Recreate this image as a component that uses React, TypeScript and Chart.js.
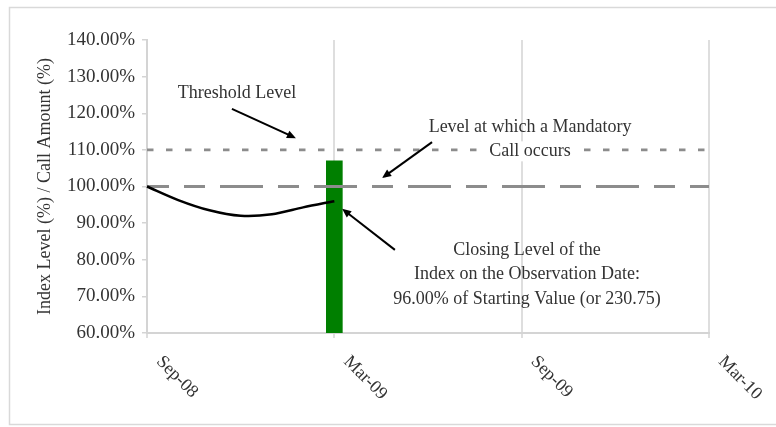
import React, { useEffect, useRef } from 'react';
import { Chart, registerables } from 'chart.js';

Chart.register(...registerables);

// ---- data ----
const months = [
  'Sep-08', 'Oct-08', 'Nov-08', 'Dec-08', 'Jan-09', 'Feb-09', 'Mar-09',
  'Apr-09', 'May-09', 'Jun-09', 'Jul-09', 'Aug-09', 'Sep-09',
  'Oct-09', 'Nov-09', 'Dec-09', 'Jan-10', 'Feb-10', 'Mar-10',
];
const indexLevel = [100, 96.3, 93.5, 92.0, 92.4, 94.3, 96.0];
const callMonth = 'Mar-09';
const callAmount = 107;
const thresholdLevel = 110;
const mandatoryCallLevel = 100;
const axisTickLabels = ['Sep-08', 'Mar-09', 'Sep-09', 'Mar-10'];
const yMin = 60;
const yMax = 140;
const yStep = 10;

const yTitle = 'Index Level (%) / Call Amount (%)';
const thresholdText = ['Threshold Level'];
const mandatoryText = ['Level at which a Mandatory', 'Call occurs'];
const closingText = [
  'Closing Level of the',
  'Index on the Observation Date:',
  '96.00% of Starting Value (or 230.75)',
];

const FONT = "'Liberation Serif', 'Times New Roman', serif";
const TEXT = '#333333';

function arrow(ctx: CanvasRenderingContext2D, x1: number, y1: number, x2: number, y2: number) {
  const ang = Math.atan2(y2 - y1, x2 - x1);
  const hl = 9;
  const hw = 4;
  ctx.save();
  ctx.strokeStyle = '#000';
  ctx.fillStyle = '#000';
  ctx.lineWidth = 2;
  ctx.beginPath();
  ctx.moveTo(x1, y1);
  ctx.lineTo(x2 - Math.cos(ang) * hl * 0.8, y2 - Math.sin(ang) * hl * 0.8);
  ctx.stroke();
  ctx.beginPath();
  ctx.moveTo(x2, y2);
  ctx.lineTo(x2 - Math.cos(ang) * hl - Math.sin(ang) * hw, y2 - Math.sin(ang) * hl + Math.cos(ang) * hw);
  ctx.lineTo(x2 - Math.cos(ang) * hl + Math.sin(ang) * hw, y2 - Math.sin(ang) * hl - Math.cos(ang) * hw);
  ctx.closePath();
  ctx.fill();
  ctx.restore();
}

const decorPlugin = {
  id: 'decor',
  beforeDraw(chart: any) {
    const ctx = chart.ctx;
    ctx.save();
    ctx.strokeStyle = '#d9d9d9';
    ctx.lineWidth = 1.5;
    ctx.strokeRect(9.5, 7.5, 800, 417);
    ctx.restore();
  },
  afterDatasetsDraw(chart: any) {
    const ctx = chart.ctx;
    const xs = chart.scales.x;
    const ys = chart.scales.y;
    const px = (v: number) => xs.getPixelForValue(v);
    const py = (v: number) => ys.getPixelForValue(v);
    ctx.save();
    ctx.font = `18px ${FONT}`;
    ctx.fillStyle = TEXT;
    ctx.textAlign = 'center';
    ctx.textBaseline = 'middle';

    // Threshold label
    ctx.fillText(thresholdText[0], px(2.88), py(125.5));
    arrow(ctx, px(2.72), py(121.2), px(4.77), py(113.2));

    // Mandatory call label
    const mx = px(12.27);
    const lineGap = 6.7;
    mandatoryText.forEach((t, i) => {
      const y = py(116.3 - i * lineGap);
      if (i === 1) {
        const w = ctx.measureText(t).width;
        ctx.fillStyle = '#ffffff';
        ctx.fillRect(mx - w / 2 - 4, y - 10, w + 8, 20);
        ctx.fillStyle = TEXT;
      }
      ctx.fillText(t, mx, y);
    });
    arrow(ctx, px(9.13), py(112.1), px(7.53), py(102.3));

    // Closing level label
    const cx = px(12.17);
    closingText.forEach((t, i) => {
      ctx.fillText(t, cx, py(82.7 - i * 6.7));
    });
    arrow(ctx, px(7.94), py(82.7), px(6.25), py(93.9));
    ctx.restore();
  },
  afterDraw(chart: any) {
    const ctx = chart.ctx;
    const xs = chart.scales.x;
    const bottom = chart.chartArea.bottom;
    ctx.save();
    ctx.font = `18px ${FONT}`;
    ctx.fillStyle = TEXT;
    ctx.textAlign = 'left';
    ctx.textBaseline = 'middle';
    axisTickLabels.forEach((lab) => {
      const x = xs.getPixelForValue(months.indexOf(lab));
      ctx.save();
      ctx.translate(x + 12, bottom + 26);
      ctx.rotate(Math.PI / 4);
      ctx.fillText(lab, 0, 0);
      ctx.restore();
    });
    ctx.restore();
  },
};

export default function App() {
  const ref = useRef<HTMLCanvasElement | null>(null);

  useEffect(() => {
    if (!ref.current) return;
    const chart = new Chart(ref.current, {
      type: 'line',
      data: {
        labels: months,
        datasets: [
          {
            type: 'line',
            label: 'Index Level',
            data: indexLevel,
            borderColor: '#000000',
            borderWidth: 2.5,
            pointRadius: 0,
            tension: 0.3,
            fill: false,
            order: 1,
          } as any,
          {
            type: 'line',
            label: 'Threshold Level',
            data: [
              { x: months[0], y: thresholdLevel },
              { x: months[months.length - 1], y: thresholdLevel },
            ],
            borderColor: '#8c8c8c',
            borderWidth: 2.8,
            borderDash: [6.5, 12.5],
            borderCapStyle: 'butt',
            pointRadius: 0,
            fill: false,
            order: 2,
          } as any,
          {
            type: 'line',
            label: 'Mandatory Call Level',
            data: [
              { x: months[0], y: mandatoryCallLevel },
              { x: months[months.length - 1], y: mandatoryCallLevel },
            ],
            borderColor: '#8c8c8c',
            borderWidth: 3,
            borderDash: [43, 15, 21, 15],
            borderDashOffset: 21,
            borderCapStyle: 'butt',
            pointRadius: 0,
            fill: false,
            order: 2,
          } as any,
          {
            type: 'bar',
            label: 'Call Amount',
            data: [{ x: callMonth, y: callAmount }],
            backgroundColor: '#007f00',
            borderWidth: 0,
            barThickness: 16,
            order: 3,
          } as any,
        ],
      },
      options: {
        animation: false,
        responsive: true,
        maintainAspectRatio: false,
        layout: { padding: { left: 0, right: 67, top: 40, bottom: 0 } },
        plugins: {
          legend: { display: false },
          tooltip: { enabled: false },
        },
        scales: {
          x: {
            type: 'category',
            offset: false,
            grid: {
              offset: false,
              color: (c: any) => (c.index % 6 === 0 ? '#dedede' : 'rgba(0,0,0,0)'),
              lineWidth: 2,
              drawTicks: true,
              tickLength: 5,
            },
            border: { display: true, color: '#d4d4d4', width: 2 },
            ticks: { display: false, autoSkip: false },
            afterFit: (s: any) => {
              s.height = 94;
            },
          },
          y: {
            min: yMin,
            max: yMax,
            ticks: {
              stepSize: yStep,
              color: TEXT,
              padding: 7,
              font: { family: FONT, size: 19 },
              callback: (v: any) => Number(v).toFixed(2) + '%',
            },
            grid: {
              drawOnChartArea: false,
              drawTicks: true,
              tickLength: 5,
              color: '#d4d4d4',
              lineWidth: 1.5,
            },
            border: { display: true, color: '#d4d4d4', width: 2 },
            title: {
              display: true,
              text: yTitle,
              color: TEXT,
              font: { family: FONT, size: 18 },
              padding: { top: 34, bottom: 0 },
            },
            afterFit: (s: any) => {
              s.width = 147;
            },
          },
        },
      },
      plugins: [decorPlugin],
    });
    return () => chart.destroy();
  }, []);

  return (
    <div style={{ position: 'fixed', left: 0, top: 0, width: 776, height: 427, background: '#fff' }}>
      <canvas ref={ref} />
    </div>
  );
}
